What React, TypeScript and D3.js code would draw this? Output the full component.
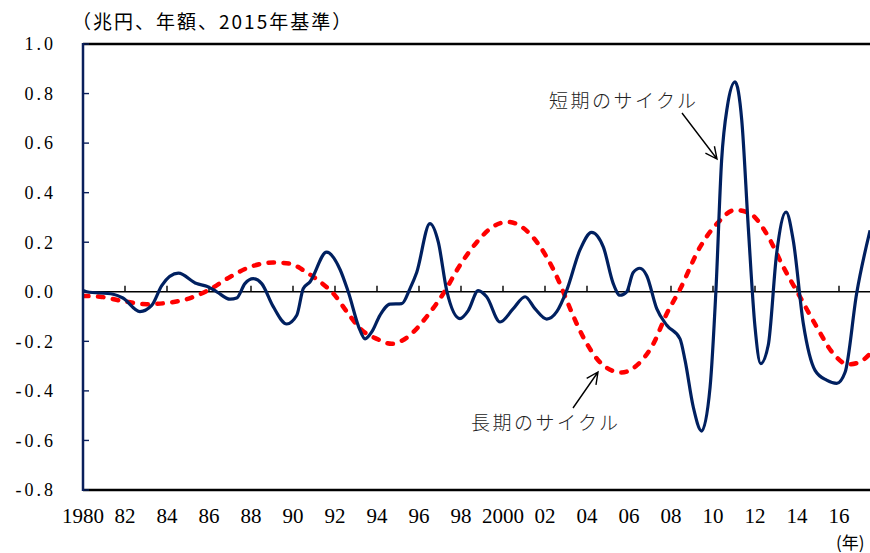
import React, { useEffect, useRef } from "react";
import * as d3 from "d3";

// short cycle (navy solid line)
const shortYears: number[] = [
  1980.0, 1980.18, 1981.44, 1981.9, 1982.71, 1983.27, 1983.75, 1984.54, 1985.41, 1985.89,
  1986.37, 1987.0, 1987.32, 1987.71, 1988.11, 1988.51, 1989.06, 1989.7, 1990.18, 1990.49,
  1990.81, 1991.6, 1992.24, 1992.63, 1993.19, 1993.43, 1993.75, 1994.14, 1994.62, 1995.18,
  1995.57, 1995.89, 1996.52, 1996.92, 1997.32, 1997.95, 1998.35, 1998.82, 1999.22, 1999.86,
  2000.49, 2001.05, 2001.52, 2002.08, 2002.56, 2003.03, 2003.67, 2004.22, 2004.78, 2005.25,
  2005.57, 2005.89, 2006.2, 2006.52, 2006.84, 2007.32, 2007.8, 2008.43, 2008.67, 2009.06,
  2009.46, 2009.86, 2010.14, 2010.41, 2010.68, 2011.05, 2011.37, 2011.68, 2012.0, 2012.27,
  2012.63, 2013.03, 2013.48, 2013.82, 2014.3, 2014.86, 2015.41, 2015.89, 2016.29, 2016.84,
  2017.48,
];
const shortValues: number[] = [
  0.005, 0.0, -0.01, -0.025, -0.08, -0.055, 0.025, 0.075, 0.033, 0.022,
  0.0, -0.03, -0.025, 0.033, 0.053, 0.033, -0.06, -0.13, -0.095, 0.013,
  0.04, 0.16, 0.09, 0.0, -0.155, -0.19, -0.162, -0.095, -0.05, -0.048,
  0.013, 0.078, 0.275, 0.2, 0.005, -0.108, -0.075, 0.005, -0.02, -0.122,
  -0.068, -0.02, -0.068, -0.11, -0.08, 0.005, 0.17, 0.24, 0.18, 0.033,
  -0.014, 0.0, 0.078, 0.095, 0.066, -0.068, -0.135, -0.19, -0.277, -0.465,
  -0.562, -0.386, 0.006, 0.53, 0.746, 0.847, 0.692, 0.26, -0.142, -0.29,
  -0.216, 0.154, 0.322, 0.208, -0.128, -0.317, -0.357, -0.37, -0.325, -0.007,
  0.248,
];

// long cycle (red dashed line)
const longYears: number[] = [
  1980.0, 1980.81, 1981.92, 1983.03, 1983.99, 1984.94, 1986.05, 1987.0, 1987.95, 1989.06,
  1989.86, 1990.49, 1991.29, 1991.92, 1992.56, 1993.19, 1993.99, 1994.7, 1995.57, 1996.37,
  1997.16, 1997.95, 1998.75, 1999.54, 2000.24, 2001.29, 2002.08, 2002.71, 2003.03, 2003.82,
  2004.78, 2005.65, 2006.37, 2007.16, 2007.8, 2008.43, 2009.38, 2010.18, 2011.05, 2011.76,
  2012.56, 2013.35, 2014.14, 2014.94, 2015.73, 2016.44, 2017.0, 2017.48,
];
const longValues: number[] = [
  -0.017, -0.02, -0.038, -0.05, -0.045, -0.03, 0.01, 0.06, 0.1, 0.118,
  0.114, 0.087, 0.04, -0.007, -0.08, -0.148, -0.19, -0.21, -0.175, -0.1,
  -0.007, 0.107, 0.2, 0.264, 0.282, 0.233, 0.14, 0.033, -0.034, -0.183,
  -0.297, -0.326, -0.297, -0.21, -0.088, 0.01, 0.18, 0.274, 0.33, 0.316,
  0.233, 0.1, -0.02, -0.142, -0.25, -0.293, -0.283, -0.25,
];

const yTicks: number[] = [-0.8, -0.6, -0.4, -0.2, 0, 0.2, 0.4, 0.6, 0.8, 1.0];
const xTickYears: number[] = [
  1980, 1982, 1984, 1986, 1988, 1990, 1992, 1994, 1996, 1998, 2000, 2002, 2004, 2006,
  2008, 2010, 2012, 2014, 2016,
];
const xTickLabels: string[] = [
  "1980", "82", "84", "86", "88", "90", "92", "94", "96", "98", "2000", "02", "04", "06",
  "08", "10", "12", "14", "16",
];

const title = "（兆円、年額、2015年基準）";
const xUnit = "(年)";
const shortLabel = "短期のサイクル";
const longLabel = "長期のサイクル";

const W = 870;
const H = 553;

const App: React.FC = () => {
  const svgRef = useRef<SVGSVGElement | null>(null);

  useEffect(() => {
    if (!svgRef.current) return;
    const svg = d3.select(svgRef.current);
    svg.selectAll("*").remove();

    const left = 83;
    const right = 870.5;
    const top = 44;
    const bottom = 490;

    const x = d3.scaleLinear().domain([1980, 2017.5]).range([left, right]);
    const y = d3.scaleLinear().domain([-0.8, 1.0]).range([bottom, top]);

    const serif = "'Liberation Serif', 'DejaVu Serif', serif";
    const jp = "'Noto Sans CJK JP', sans-serif";

    svg
      .append("defs")
      .append("clipPath")
      .attr("id", "plot-clip")
      .append("rect")
      .attr("x", left)
      .attr("y", top - 10)
      .attr("width", W - left)
      .attr("height", bottom - top + 20);

    // zero line + ticks
    svg
      .append("line")
      .attr("x1", left)
      .attr("x2", W)
      .attr("y1", y(0))
      .attr("y2", y(0))
      .attr("stroke", "#000")
      .attr("stroke-width", 1.6);

    svg
      .selectAll(".xtick")
      .data(xTickYears.filter((d) => d > 1980))
      .enter()
      .append("line")
      .attr("x1", (d) => x(d))
      .attr("x2", (d) => x(d))
      .attr("y1", y(0))
      .attr("y2", y(0) - 6)
      .attr("stroke", "#000")
      .attr("stroke-width", 1.4);

    // series
    const shortData = shortYears.map((yr, i) => [yr, shortValues[i]] as [number, number]);
    const longData = longYears.map((yr, i) => [yr, longValues[i]] as [number, number]);

    const line = d3
      .line<[number, number]>()
      .x((d) => x(d[0]))
      .y((d) => y(d[1]))
      .curve(d3.curveMonotoneX);

    const g = svg.append("g").attr("clip-path", "url(#plot-clip)");

    g.append("path")
      .datum(longData)
      .attr("fill", "none")
      .attr("stroke", "#ff0000")
      .attr("stroke-width", 4.5)
      .attr("stroke-dasharray", "5.5 9.5")
      .attr("stroke-linecap", "round")
      .attr("d", line);

    g.append("path")
      .datum(shortData)
      .attr("fill", "none")
      .attr("stroke", "#002060")
      .attr("stroke-width", 3.2)
      .attr("stroke-linejoin", "round")
      .attr("d", line);

    // frame
    svg
      .append("line")
      .attr("x1", left)
      .attr("x2", W)
      .attr("y1", top)
      .attr("y2", top)
      .attr("stroke", "#000")
      .attr("stroke-width", 2.5);
    svg
      .append("line")
      .attr("x1", left)
      .attr("x2", W)
      .attr("y1", bottom)
      .attr("y2", bottom)
      .attr("stroke", "#000")
      .attr("stroke-width", 2.5);
    svg
      .append("line")
      .attr("x1", left)
      .attr("x2", left)
      .attr("y1", top - 1)
      .attr("y2", bottom + 1)
      .attr("stroke", "#0a1f5c")
      .attr("stroke-width", 2.5);

    // y ticks and labels
    svg
      .selectAll(".ytick")
      .data(yTicks)
      .enter()
      .append("line")
      .attr("x1", left)
      .attr("x2", left + 6)
      .attr("y1", (d) => y(d))
      .attr("y2", (d) => y(d))
      .attr("stroke", "#0a1f5c")
      .attr("stroke-width", 1.4);

    svg
      .selectAll(".ylabel")
      .data(yTicks)
      .enter()
      .append("text")
      .attr("x", 56)
      .attr("y", (d) => y(d))
      .attr("dy", "0.35em")
      .attr("text-anchor", "end")
      .attr("font-family", serif)
      .attr("font-size", 18)
      .attr("letter-spacing", 3)
      .attr("fill", "#000")
      .text((d) => (d < 0 ? "-" : "") + d3.format(".1f")(Math.abs(d)));

    // x labels
    svg
      .selectAll(".xlabel")
      .data(xTickYears)
      .enter()
      .append("text")
      .attr("x", (d) => x(d))
      .attr("y", 516)
      .attr("dy", "0.35em")
      .attr("text-anchor", "middle")
      .attr("font-family", serif)
      .attr("font-size", 21)
      .attr("fill", "#000")
      .text((_, i) => xTickLabels[i]);

    svg
      .append("text")
      .attr("x", 836)
      .attr("y", 543)
      .attr("dy", "0.35em")
      .attr("font-family", jp)
      .attr("font-size", 17)
      .attr("fill", "#000")
      .text(xUnit);

    // title
    svg
      .append("text")
      .attr("x", 72)
      .attr("y", 22)
      .attr("dy", "0.35em")
      .attr("font-family", jp)
      .attr("font-size", 19)
      .attr("letter-spacing", 2)
      .attr("fill", "#000")
      .text(title);

    // annotations
    const addLabel = (txt: string, tx: number, ty: number) =>
      svg
        .append("text")
        .attr("x", tx)
        .attr("y", ty)
        .attr("dy", "0.35em")
        .attr("font-family", jp)
        .attr("font-size", 19)
        .attr("font-weight", 300)
        .attr("letter-spacing", 2.5)
        .attr("fill", "#222")
        .text(txt);

    addLabel(shortLabel, 549, 101);
    addLabel(longLabel, 471, 423);

    const addArrow = (x1: number, y1: number, x2: number, y2: number) => {
      const ang = Math.atan2(y2 - y1, x2 - x1);
      const len = 13;
      const spread = 0.45;
      const p1: [number, number] = [
        x2 - len * Math.cos(ang - spread),
        y2 - len * Math.sin(ang - spread),
      ];
      const p2: [number, number] = [
        x2 - len * Math.cos(ang + spread),
        y2 - len * Math.sin(ang + spread),
      ];
      svg
        .append("path")
        .attr("d", `M${x1},${y1}L${x2},${y2}M${p1[0]},${p1[1]}L${x2},${y2}L${p2[0]},${p2[1]}`)
        .attr("fill", "none")
        .attr("stroke", "#000")
        .attr("stroke-width", 1.4);
    };

    addArrow(682, 113, 717, 159);
    addArrow(573, 408, 598, 372);
  }, []);

  return (
    <div style={{ position: "absolute", left: 0, top: 0, width: W, height: H, background: "#fff" }}>
      <svg ref={svgRef} width={W} height={H}></svg>
    </div>
  );
};

export default App;
